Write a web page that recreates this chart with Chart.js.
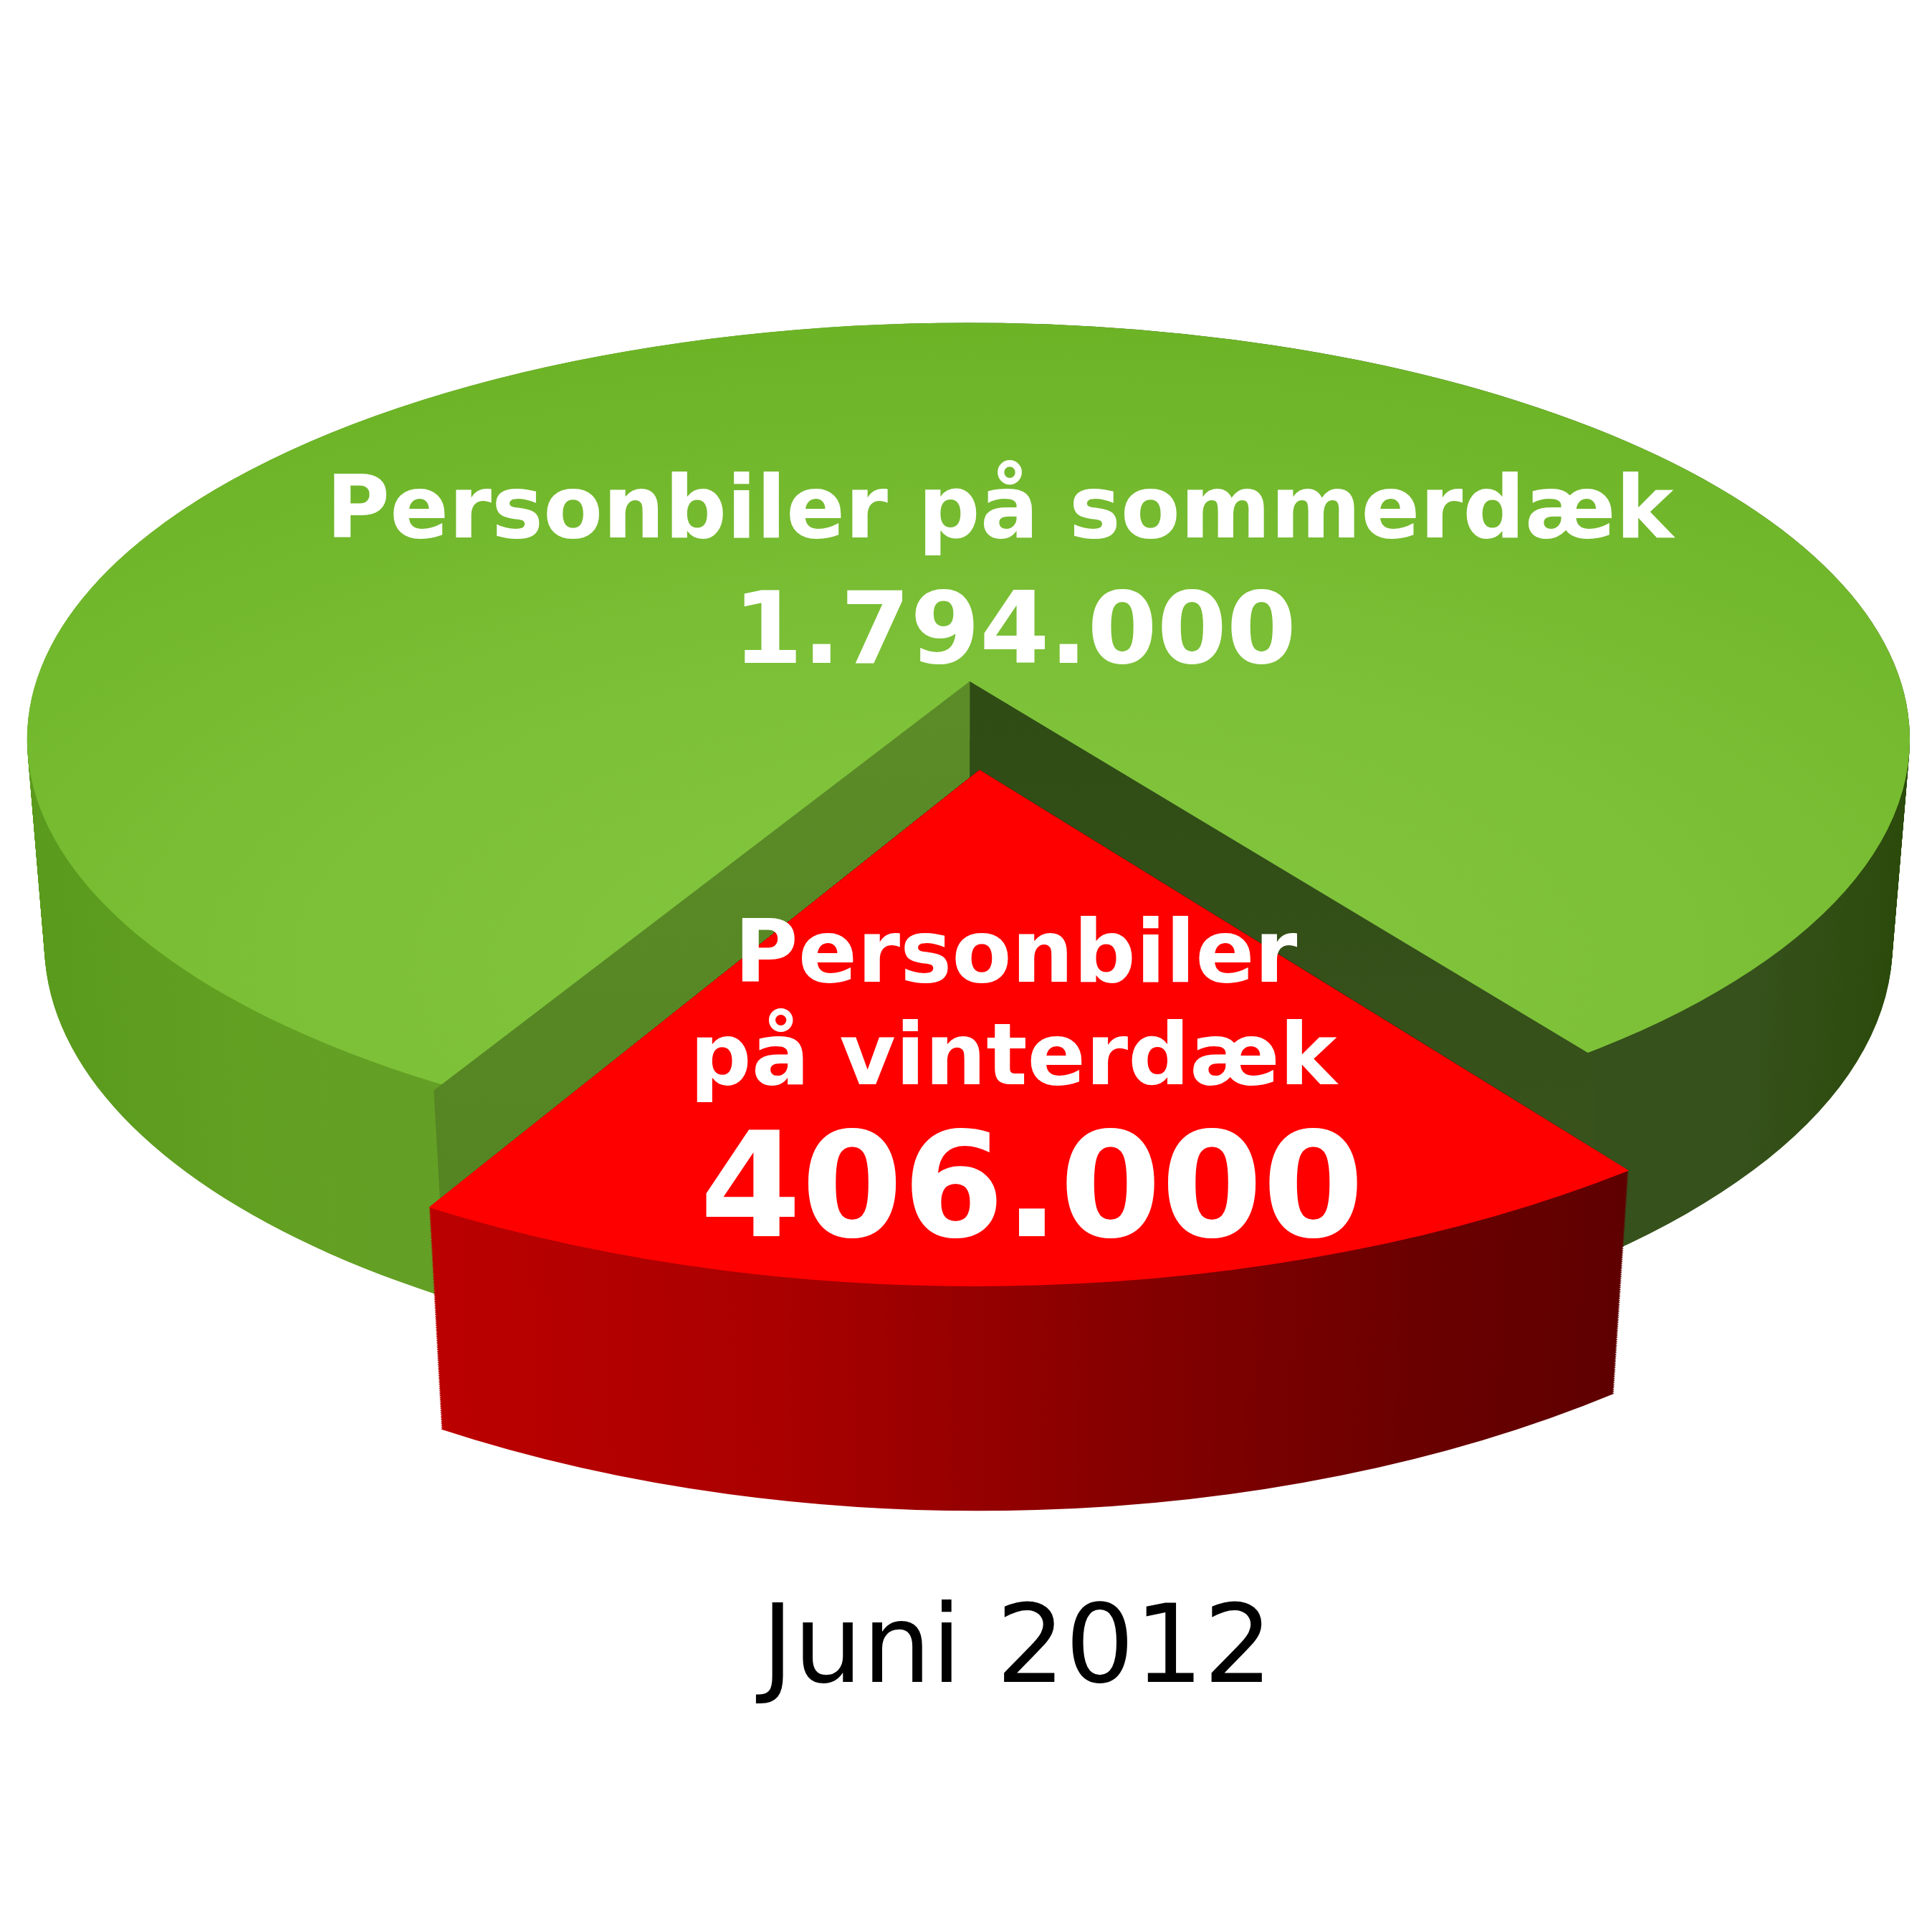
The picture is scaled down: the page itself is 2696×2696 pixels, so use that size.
<!DOCTYPE html>
<html>
<head>
<meta charset="utf-8">
<style>html,body{margin:0;padding:0;background:#fff}canvas{display:block}</style>
<script src="https://cdn.jsdelivr.net/npm/chart.js@4"></script>
</head>
<body>
<canvas id="c" width="2696" height="2696" style="width:2696px;height:2696px"></canvas>
<script>
const categories = ['Personbiler på sommerdæk', 'Personbiler på vinterdæk'];
const tireValues = [1794000, 406000];
const categoryLines = [['Personbiler på sommerdæk'], ['Personbiler', 'på vinterdæk']];
const periodLabel = 'Juni 2012';

const S = 2696 / 1568;
const FONT = '"DejaVu Sans"';
const canvas = document.getElementById('c');
const g = canvas.getContext('2d');
const share = tireValues[1] / (tireValues[0] + tireValues[1]);
const halfSweep = Math.PI * share;
const fmt = v => String(v).replace(/\B(?=(\d{3})+$)/g, '.');

// Local (unprojected) geometry of the pie before the 3D projection
const CX = 1348, R = 1348;

function localGrad(x0, x1, stops) {
  const gr = g.createLinearGradient(x0, 0, x1, 0);
  stops.forEach(([p, c]) => gr.addColorStop(p, c));
  return gr;
}
const greenTop = g.createRadialGradient(CX, CX + 0.55 * R, 0, CX, CX + 0.55 * R, 1.55 * R);
greenTop.addColorStop(0, '#84C741');
greenTop.addColorStop(0.45, '#7DC138');
greenTop.addColorStop(1, '#6CB326');
const greenRim = localGrad(CX - R, CX + R, [
  [0, '#5A9A1C'], [0.1, '#62A022'], [0.3, '#669E2A'], [0.47, '#5E9228'],
  [0.53, '#36521C'], [0.9, '#36511B'], [1, '#2A4A0A']
]);
const redRim = localGrad(CX - 0.6 * R, CX + 0.6 * R, [
  [0, '#BE0000'], [0.3, '#AA0000'], [0.55, '#880000'], [0.8, '#6A0000'], [1, '#5C0000']
]);

// Projections, in units of the 1568-wide layout
function ellipseM(cx, cy, rx, ry, phiDeg) {
  const p = phiDeg * Math.PI / 180, co = Math.cos(p), si = Math.sin(p);
  return {e: cx, f: cy, a: rx * co, b: ry * si, c: -rx * si, d: ry * co};
}
// Maps the wedge so that its two outer corners land on L and Rt, seen from apex A
function wedgeM(A, L, Rt) {
  const s = Math.sin(halfSweep), co = Math.cos(halfSweep);
  const lx = L[0] - A[0], ly = L[1] - A[1], rx = Rt[0] - A[0], ry = Rt[1] - A[1];
  return {
    e: A[0], f: A[1],
    a: (rx - lx) / (2 * s), b: (ry - ly) / (2 * s),
    c: (rx + lx) / (2 * co), d: (ry + ly) / (2 * co)
  };
}
const lerpM = (A, B, t) => {
  const o = {};
  for (const k in A) o[k] = A[k] + (B[k] - A[k]) * t;
  return o;
};
const greenTopM = ellipseM(786, 600, 764, 338, -3.55);
const greenLowM = ellipseM(786, 766, 750, 348, -3.55);
const redTopM = wedgeM([795, 565], [348, 980], [1322, 950]);
const redLowM = wedgeM([795, 736], [358, 1160], [1310, 1131]);
const redClip = [[795, 625], [348, 980], [340, 1300], [1340, 1300], [1322, 950]];

function drawArc(ctx, arc, M, fill) {
  ctx.save();
  ctx.transform(S * M.a / R, S * M.b / R, S * M.c / R, S * M.d / R, S * M.e, S * M.f);
  ctx.translate(-arc.x, -arc.y);
  const saved = arc.options;
  if (fill) arc.options = Object.assign({}, saved, {backgroundColor: fill});
  arc.draw(ctx);
  arc.options = saved;
  ctx.restore();
}
function extrude(ctx, arc, A, B, fill) {
  const steps = 120;
  for (let i = steps; i >= 0; i--) drawArc(ctx, arc, lerpM(A, B, i / steps), fill);
}
function tracePoly(ctx, pts) {
  ctx.beginPath();
  pts.forEach(([x, y], i) => i ? ctx.lineTo(x * S, y * S) : ctx.moveTo(x * S, y * S));
  ctx.closePath();
}
function poly(ctx, pts, fill) {
  tracePoly(ctx, pts);
  ctx.fillStyle = fill;
  ctx.fill();
}
function vGrad(ctx, y0, y1, c0, c1) {
  const gr = ctx.createLinearGradient(0, y0 * S, 0, y1 * S);
  gr.addColorStop(0, c0); gr.addColorStop(1, c1);
  return gr;
}
function fitText(ctx, text, left, right, base, weight, color) {
  ctx.font = weight + ' 100px ' + FONT;
  const w = ctx.measureText(text).width;
  const px = 100 * (right - left) * S / w;
  ctx.font = weight + ' ' + px.toFixed(1) + 'px ' + FONT;
  ctx.fillStyle = color;
  ctx.textAlign = 'center';
  ctx.textBaseline = 'alphabetic';
  ctx.fillText(text, (left + right) / 2 * S, base * S);
}

const pie3d = {
  id: 'pie3d',
  beforeDatasetsDraw(chart) {
    const ctx = chart.ctx;
    const [green, red] = chart.getDatasetMeta(0).data;
    // green body
    extrude(ctx, green, greenTopM, greenLowM, greenRim);
    drawArc(ctx, green, greenTopM);
    // inner walls of the gap
    poly(ctx, [[787, 553], [352, 885], [358, 990], [787, 720]], vGrad(ctx, 553, 960, '#5C8C28', '#558522'));
    poly(ctx, [[787, 553], [1293, 857], [1296, 985], [787, 720]], vGrad(ctx, 553, 960, '#2E4C14', '#3A531D'));
    // red slice
    ctx.save();
    tracePoly(ctx, redClip);
    ctx.clip();
    extrude(ctx, red, redTopM, redLowM, redRim);
    drawArc(ctx, red, redTopM);
    ctx.restore();
    // labels
    fitText(ctx, categoryLines[0][0], 265, 1358, 436, 'bold', '#fff');
    fitText(ctx, fmt(tireValues[0]), 595, 1052, 538, 'bold', '#fff');
    fitText(ctx, categoryLines[1][0], 596, 1053, 797, 'bold', '#fff');
    fitText(ctx, categoryLines[1][1], 560, 1085, 880, 'bold', '#fff');
    fitText(ctx, fmt(tireValues[1]), 568, 1107, 1003, 'bold', '#fff');
    fitText(ctx, periodLabel, 618, 1033, 1365, 'normal', '#000');
    return false;
  }
};

new Chart(canvas, {
  type: 'pie',
  data: {
    labels: categories,
    datasets: [{
      data: tireValues,
      backgroundColor: [greenTop, '#FF0000'],
      borderWidth: 0,
      hoverOffset: 0
    }]
  },
  options: {
    responsive: false,
    animation: false,
    rotation: 180 + 180 * share,
    layout: {padding: 0},
    plugins: {legend: {display: false}, tooltip: {enabled: false}}
  },
  plugins: [pie3d]
});
</script>
</body>
</html>
